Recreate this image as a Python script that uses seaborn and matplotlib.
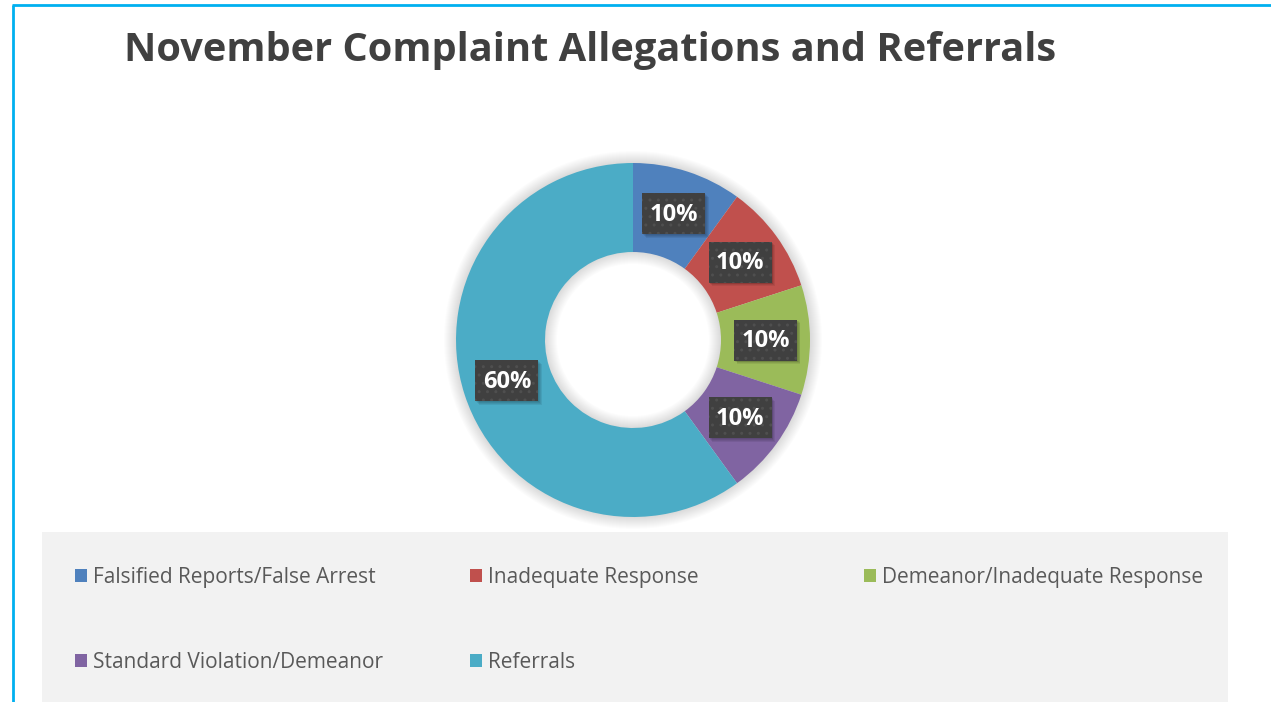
import matplotlib
matplotlib.use("Agg")
import matplotlib.pyplot as plt
import seaborn as sns
import numpy as np
from matplotlib.patches import Patch, Rectangle, Wedge
import matplotlib.patheffects as pe

categories = ["Falsified Reports/False Arrest", "Inadequate Response",
              "Demeanor/Inadequate Response", "Standard Violation/Demeanor", "Referrals"]
values = [10, 10, 10, 10, 60]
labels = ["10%", "10%", "10%", "10%", "60%"]
title = "November Complaint Allegations and Referrals"

sns.set_theme(style="white")
plt.rcParams['font.family'] = ['Open Sans', 'DejaVu Sans']
plt.rcParams['hatch.linewidth'] = 1.0
colors = sns.color_palette(["#4F81BD", "#C0504D", "#9BBB59", "#8064A2", "#4BACC6"])

W, H = 1271, 702
fig = plt.figure(figsize=(W / 100, H / 100), dpi=100)
fig.patch.set_facecolor("white")
ax = fig.add_axes([0, 0, 1, 1])

cx, cy = 633, H - 340
R, Rin = 177, 88

# soft shadow around donut
for i in range(12):
    ax.add_patch(Wedge((cx, cy), R + 12 - i, 0, 360, width=(R - Rin) + 24 - 2 * i,
                       facecolor="black", alpha=0.011, lw=0, zorder=1))

wedges, _ = ax.pie(values, colors=colors, startangle=90, counterclock=False,
                   center=(cx, cy), radius=R,
                   wedgeprops=dict(width=R - Rin, edgecolor="none", zorder=2))
ax.set_xlim(0, W)
ax.set_ylim(0, H)
ax.set_aspect("equal")
ax.axis("off")

# data labels at mid radius, in patterned dark boxes
rm = (R + Rin) / 2
bw, bh = 63, 41
for w, lab in zip(wedges, labels):
    ang = np.deg2rad((w.theta1 + w.theta2) / 2)
    x = cx + rm * np.cos(ang)
    y = cy + rm * np.sin(ang)
    for k in range(4):
        ax.add_patch(Rectangle((x - bw / 2 + 1 + k * 0.8, y - bh / 2 - 1 - k * 0.8), bw, bh,
                               facecolor="black", alpha=0.07, lw=0, zorder=3))
    box = Rectangle((x - bw / 2, y - bh / 2), bw, bh, facecolor="#404040",
                    edgecolor="#4f4f4f", hatch="..", linewidth=0, zorder=4)
    ax.add_patch(box)
    ax.text(x, y - 1, lab, ha="center", va="center", color="white",
            fontsize=17, fontweight="bold", zorder=5)

# title
fig.text(124 / W, 1 - 50 / H, title, ha="left", va="center", fontsize=28.6,
         fontweight="bold", color="#404040")

# border lines (top and left)
ax.plot([12, W], [H - 5, H - 5], color="#00B0F0", lw=2, solid_capstyle="butt", zorder=10)
ax.plot([13, 13], [0, H - 5], color="#00B0F0", lw=2, solid_capstyle="butt", zorder=10)

# legend background
ax.add_patch(Rectangle((42, 0), 1228 - 42, H - 532, facecolor="#F2F2F2",
                       edgecolor="none", zorder=0))

handles = [Patch(facecolor=c, edgecolor="none") for c in colors]
col_x = [75, 470, 864]
cols = [[0, 3], [1, 4], [2]]
for xpos, idxs in zip(col_x, cols):
    fig.legend([handles[i] for i in idxs], [categories[i] for i in idxs],
               loc="upper left", bbox_to_anchor=(xpos / W, 1 - 567 / H),
               frameon=False, fontsize=15, labelcolor="#595959",
               handlelength=0.58, handleheight=0.58, handletextpad=0.29,
               labelspacing=3.05, borderpad=0, borderaxespad=0)

fig.savefig("out.png", dpi=100, facecolor="white")
